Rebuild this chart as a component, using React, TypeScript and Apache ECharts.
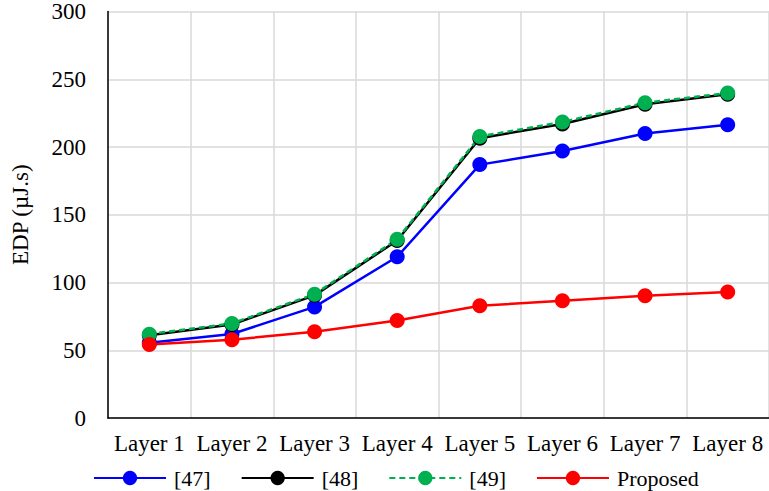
import React, { useEffect, useRef } from "react";
import * as echarts from "echarts";

const categories = ["Layer 1", "Layer 2", "Layer 3", "Layer 4", "Layer 5", "Layer 6", "Layer 7", "Layer 8"];
const ref47 = [55.5, 62, 82, 119, 187, 197, 210, 216.5];
const ref48 = [61, 69, 90.5, 131, 206.5, 217, 231.5, 239];
const ref49 = [61.9, 69.8, 91.4, 132, 207.8, 218.4, 232.7, 239.8];
const proposed = [54.3, 57.8, 63.6, 72, 82.8, 86.5, 90.2, 93];
const seriesNames = ["[47]", "[48]", "[49]", "Proposed"];
const yMax = 300;
const yInterval = 50;

const FONT = "'Liberation Serif', 'Times New Roman', serif";

export default function App() {
  const ref = useRef<HTMLDivElement>(null);
  useEffect(() => {
    if (!ref.current) return;
    const chart = echarts.init(ref.current, null, { renderer: "svg" });
    const mk = (name: string, data: number[], color: string, dashed = false) => ({
      name,
      type: "line",
      data,
      symbol: "circle",
      symbolSize: 15,
      itemStyle: { color },
      lineStyle: { color, width: 2.5, type: dashed ? [6, 4] : "solid" },
    });
    chart.setOption({
      animation: false,
      backgroundColor: "#ffffff",
      textStyle: { fontFamily: FONT },
      grid: { left: 108, top: 10, width: 664, height: 408 },
      legend: {
        left: 88,
        top: 462,
        itemWidth: 72,
        itemHeight: 18,
        itemGap: 30,
        textStyle: { fontFamily: FONT, fontSize: 22, color: "#000", padding: [0, 0, 0, 3] },
        data: seriesNames,
      },
      xAxis: {
        type: "category",
        data: categories,
        boundaryGap: true,
        axisLine: { lineStyle: { color: "#000", width: 1.5 } },
        axisTick: { show: false },
        axisLabel: { color: "#000", fontSize: 23, fontFamily: FONT, margin: 14, interval: 0 },
        splitLine: { show: true, lineStyle: { color: "#D9D9D9", width: 1.5 } },
      },
      yAxis: {
        type: "value",
        min: 0,
        max: yMax,
        interval: yInterval,
        name: "EDP (µJ.s)",
        nameLocation: "middle",
        nameGap: 76,
        nameTextStyle: { color: "#000", fontSize: 23, fontFamily: FONT },
        axisLine: { show: true, lineStyle: { color: "#000", width: 1.5 } },
        axisTick: { show: false },
        axisLabel: { color: "#000", fontSize: 23, fontFamily: FONT, margin: 22 },
        splitLine: { show: true, lineStyle: { color: "#D9D9D9", width: 1.5 } },
      },
      series: [
        mk(seriesNames[0], ref47, "#0000FF"),
        mk(seriesNames[1], ref48, "#000000"),
        mk(seriesNames[2], ref49, "#00B050", true),
        mk(seriesNames[3], proposed, "#FF0000"),
      ],
    });
    return () => chart.dispose();
  }, []);
  return (
    <div
      ref={ref}
      style={{ position: "fixed", left: 0, top: 0, width: 769, height: 491, background: "#fff" }}
    />
  );
}
